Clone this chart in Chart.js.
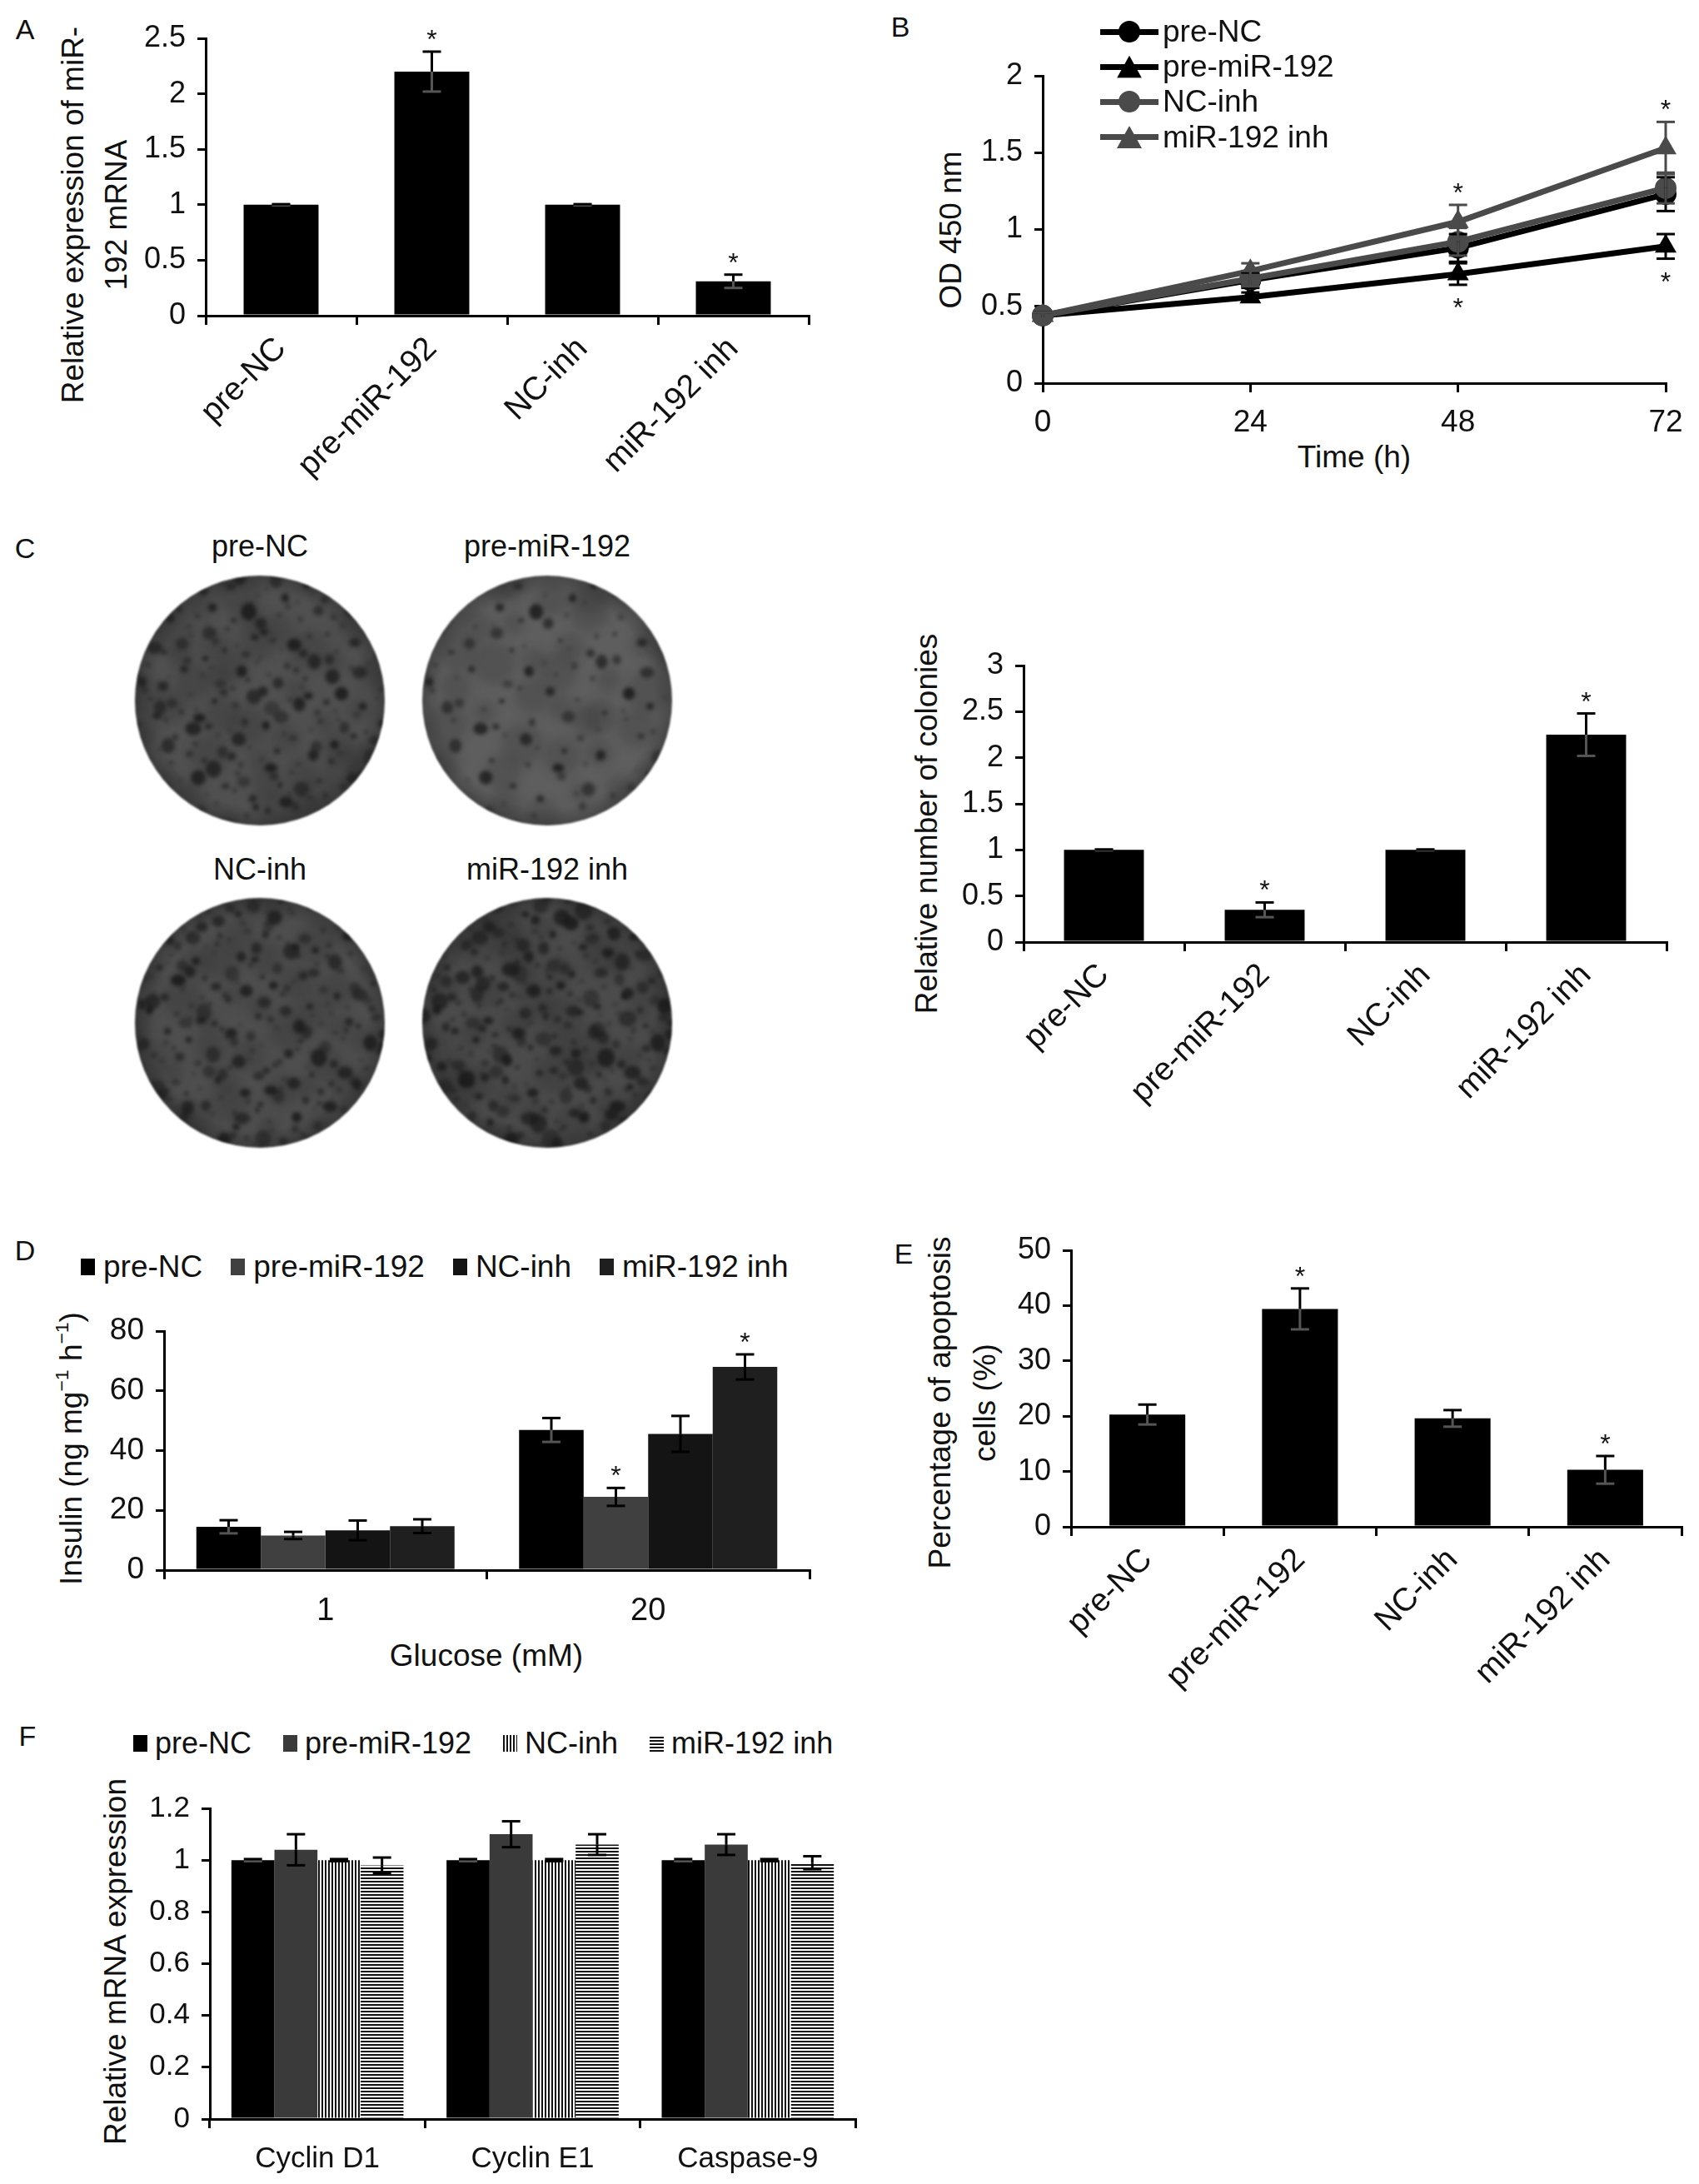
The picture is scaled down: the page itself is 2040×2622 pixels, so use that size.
<!DOCTYPE html>
<html>
<head>
<meta charset="utf-8">
<script src="https://cdn.jsdelivr.net/npm/chart.js@4.4.1/dist/chart.umd.min.js"></script>
<style>
html, body { margin: 0; padding: 0; background: #fff; }
body { width: 2040px; height: 2622px; position: relative; overflow: hidden;
       font-family: 'Liberation Sans', Arial, Helvetica, sans-serif; color: #111; }
canvas { position: absolute; }
.t { position: absolute; transform: translate(-50%, -50%); white-space: nowrap;
     font-size: 37px; line-height: 1.15; text-align: center; }
.r { transform: translate(-50%, -50%) rotate(-90deg); }
.letter { font-size: 34px; }
sup { font-size: 0.62em; line-height: 0; vertical-align: 0.7em; }
.legRow { position: absolute; display: flex; align-items: center; white-space: nowrap; }
.legRow .item { display: flex; align-items: center; }
.legRow .sq { width: 17px; height: 20px; }
.lgB { position: absolute; left: 1321px; height: 42px; display: flex; align-items: center; font-size: 37px; }
.lgB .ln { position: relative; width: 70px; height: 7px; margin-right: 5px; }
.lgB .mk { position: absolute; left: 50%; top: 50%; width: 26px; height: 26px;
           transform: translate(-50%, -50%); border-radius: 50%; }
.lgB .tri { border-radius: 0; width: 30px; height: 27px; clip-path: polygon(50% 0, 100% 100%, 0 100%); }
</style>
</head>
<body>

<div class="t letter" style="left:30px;top:36px">A</div>
<div class="t letter" style="left:1081px;top:33px">B</div>
<div class="t letter" style="left:30px;top:659px">C</div>
<div class="t letter" style="left:30px;top:1502px">D</div>
<div class="t letter" style="left:1085px;top:1506px">E</div>
<div class="t letter" style="left:33px;top:2085px">F</div>

<div class="t r" style="left:114px;top:258px;line-height:52px">Relative expression of miR-<br>192 mRNA</div>
<div class="t r" style="left:1142px;top:276px">OD 450 nm</div>
<div class="t" style="left:1626px;top:549px">Time (h)</div>
<div class="t r" style="left:1113px;top:989px">Relative number of colonies</div>
<div class="t r" style="left:86px;top:1739px">Insulin (ng mg<sup>−1</sup> h<sup>−1</sup>)</div>
<div class="t" style="left:584px;top:1988px">Glucose (mM)</div>
<div class="t r" style="left:1156px;top:1684px;line-height:54px">Percentage of apoptosis<br>cells (%)</div>
<div class="t r" style="left:139px;top:2355px">Relative mRNA expression</div>

<script>
Chart.defaults.font.family = "'Liberation Sans', Arial, Helvetica, sans-serif";
Chart.defaults.color = '#111';
Chart.defaults.animation = false;

const groups = ['pre-NC', 'pre-miR-192', 'NC-inh', 'miR-192 inh'];

// A - miR-192 expression
const exprTicks = [0, 0.5, 1, 1.5, 2, 2.5];
const exprMean = [1.0, 2.2, 1.0, 0.31];
const exprErr = [0.005, 0.18, 0.005, 0.06];
const exprStar = [0, 1, 0, 1];

// B - proliferation (OD 450)
const hours = [0, 24, 48, 72];
const odTicks = [0, 0.5, 1, 1.5, 2];
const odPreNC = [0.44, 0.67, 0.88, 1.23];
const odPreMiR = [0.44, 0.56, 0.71, 0.89];
const odNCinh = [0.44, 0.68, 0.92, 1.27];
const odMiRinh = [0.44, 0.73, 1.05, 1.53];
const odErrPreNC = [0.02, 0.05, 0.09, 0.11];
const odErrPreMiR = [0.02, 0.03, 0.07, 0.08];
const odErrNCinh = [0.02, 0.05, 0.09, 0.10];
const odErrMiRinh = [0.02, 0.05, 0.11, 0.17];
const odStarPreMiR = [0, 0, -1, -1];
const odStarMiRinh = [0, 0, 1, 1];

// C - colonies
const colonyTicks = [0, 0.5, 1, 1.5, 2, 2.5, 3];
const colonyMean = [1.0, 0.35, 1.0, 2.25];
const colonyErr = [0.005, 0.08, 0.005, 0.23];
const colonyStar = [0, 1, 0, 1];

// D - insulin secretion
const glucose = ['1', '20'];
const insulinTicks = [0, 20, 40, 60, 80];
const insPreNC = [14.5, 46.9];
const insPreMiR = [11.6, 24.5];
const insNCinh = [13.3, 45.6];
const insMiRinh = [14.7, 68.0];
const insErrPreNC = [2.2, 4.0];
const insErrPreMiR = [1.2, 3.0];
const insErrNCinh = [3.3, 6.0];
const insErrMiRinh = [2.3, 4.2];
const insStarPreMiR = [0, 1];
const insStarMiRinh = [0, 1];

// E - apoptosis
const apoTicks = [0, 10, 20, 30, 40, 50];
const apoMean = [20.3, 39.4, 19.6, 10.3];
const apoErr = [1.8, 3.7, 1.5, 2.5];
const apoStar = [0, 1, 0, 1];

// F - mRNA expression
const genes = ['Cyclin D1', 'Cyclin E1', 'Caspase-9'];
const mrnaTicks = [0, 0.2, 0.4, 0.6, 0.8, 1, 1.2];
const mrnaPreNC = [1.0, 1.0, 1.0];
const mrnaPreMiR = [1.04, 1.10, 1.06];
const mrnaNCinh = [1.0, 1.0, 1.0];
const mrnaMiRinh = [0.98, 1.06, 0.99];
const mrnaErrPreNC = [0.004, 0.004, 0.004];
const mrnaErrPreMiR = [0.06, 0.05, 0.04];
const mrnaErrNCinh = [0.004, 0.004, 0.004];
const mrnaErrMiRinh = [0.03, 0.04, 0.025];

// ---------- helpers ----------
function makeCanvas(box) {
    const cv = document.createElement('canvas');
    cv.width = box.w; cv.height = box.h;
    cv.style.left = box.x + 'px';
    cv.style.top = box.y + 'px';
    document.body.appendChild(cv);
    return cv;
}

function yAxis(ticks, width, size) {
    return {
        min: ticks[0], max: ticks[ticks.length - 1],
        afterBuildTicks: s => { s.ticks = ticks.map(v => ({ value: v })); },
        afterFit: s => { s.width = width; },
        border: { display: true, color: '#000', width: 3 },
        grid: { drawOnChartArea: false, drawTicks: true, tickLength: 10, color: '#000', lineWidth: 3 },
        ticks: { color: '#111', font: { size: size }, padding: 14, callback: v => String(v) }
    };
}

function xAxis(height, font, rot, pad) {
    return {
        offset: true,
        afterFit: s => { s.height = height; },
        border: { display: true, color: '#000', width: 3 },
        grid: { offset: true, drawOnChartArea: false, drawTicks: true, tickLength: 11, color: '#000', lineWidth: 3 },
        ticks: { color: '#111', font: font, padding: pad, minRotation: rot, maxRotation: rot, autoSkip: false }
    };
}

function layoutFor(box, area) {
    return { padding: { left: 0, bottom: 0, top: area.T - box.y, right: box.x + box.w - area.R } };
}

function seg(ctx, x1, y1, x2, y2, c) {
    ctx.strokeStyle = c;
    ctx.beginPath(); ctx.moveTo(x1, y1); ctx.lineTo(x2, y2); ctx.stroke();
}

// error bars + significance stars, drawn through the y scale
function errorBars(errs, stars, isLine) {
    return {
        id: 'errorBars',
        afterDatasetsDraw(chart) {
            const ctx = chart.ctx, y = chart.scales.y;
            ctx.save();
            ctx.lineWidth = 3;
            chart.data.datasets.forEach((ds, di) => {
                chart.getDatasetMeta(di).data.forEach((el, i) => {
                    const raw = ds.data[i];
                    const v = typeof raw === 'object' ? raw.y : raw;
                    const e = errs[di][i];
                    const top = y.getPixelForValue(v + e);
                    const mid = y.getPixelForValue(v);
                    const bot = y.getPixelForValue(v - e);
                    const x = el.x, cap = 11;
                    const up = isLine ? ds.borderColor : '#000';
                    const lo = isLine ? ds.borderColor : (ds.backgroundColor === '#000' ? '#555' : '#000');
                    seg(ctx, x, mid, x, bot, lo);
                    seg(ctx, x - cap, bot, x + cap, bot, lo);
                    seg(ctx, x, mid, x, top, up);
                    seg(ctx, x - cap, top, x + cap, top, up);
                    const s = stars[di] ? stars[di][i] : 0;
                    if (s) {
                        ctx.font = "32px 'Liberation Sans', Arial, sans-serif";
                        ctx.fillStyle = '#111';
                        ctx.textAlign = 'center';
                        ctx.textBaseline = 'alphabetic';
                        const yc = s > 0 ? top - 22 : bot + 20;
                        ctx.fillText('*', x, yc + 18);
                    }
                });
            });
            ctx.restore();
        }
    };
}

const baseOpts = {
    responsive: false,
    devicePixelRatio: 1,
    animation: false,
    plugins: { legend: { display: false }, tooltip: { enabled: false } }
};

function singleBar(box, area, values, errs, stars, ticks) {
    const cv = makeCanvas(box);
    return new Chart(cv, {
        type: 'bar',
        data: { labels: groups, datasets: [{ data: values, backgroundColor: '#000', borderWidth: 0,
                barPercentage: 0.497, categoryPercentage: 1.0 }] },
        options: Object.assign({}, baseOpts, {
            layout: layoutFor(box, area),
            scales: {
                x: xAxis(box.y + box.h - area.B, { size: 39 }, 45, 6),
                y: yAxis(ticks, area.L - box.x, 36)
            }
        }),
        plugins: [errorBars([errs], [stars], false)]
    });
}

// ---------- A ----------
singleBar({ x: 110, y: 0, w: 890, h: 590 }, { L: 247, T: 46, R: 971, B: 379 },
    exprMean, exprErr, exprStar, exprTicks);

// ---------- B ----------
(function () {
    const box = { x: 1130, y: 30, w: 910, h: 520 }, area = { L: 1252, T: 91, R: 2000, B: 460 };
    const series = [odPreNC, odPreMiR, odNCinh, odMiRinh];
    const errs = [odErrPreNC, odErrPreMiR, odErrNCinh, odErrMiRinh];
    const stars = [null, odStarPreMiR, null, odStarMiRinh];
    const colors = ['#000', '#000', '#4a4a4a', '#4a4a4a'];
    const shapes = ['circle', 'triangle', 'circle', 'triangle'];
    const cv = makeCanvas(box);
    new Chart(cv, {
        type: 'line',
        data: {
            datasets: series.map((s, i) => ({
                label: groups[i],
                data: hours.map((h, j) => ({ x: h, y: s[j] })),
                borderColor: colors[i], backgroundColor: colors[i], borderWidth: 7,
                pointStyle: shapes[i], pointRadius: shapes[i] === 'circle' ? 13 : 15,
                pointBorderWidth: 0, tension: 0, clip: false, order: 4 - i
            }))
        },
        options: Object.assign({}, baseOpts, {
            layout: layoutFor(box, area),
            scales: {
                x: {
                    type: 'linear', min: hours[0], max: hours[hours.length - 1],
                    afterBuildTicks: s => { s.ticks = hours.map(v => ({ value: v })); },
                    afterFit: s => { s.height = box.y + box.h - area.B; },
                    border: { display: true, color: '#000', width: 3 },
                    grid: { drawOnChartArea: false, drawTicks: true, tickLength: 11, color: '#000', lineWidth: 3 },
                    ticks: { color: '#111', font: { size: 37 }, padding: 15 }
                },
                y: yAxis(odTicks, area.L - box.x, 36)
            }
        }),
        plugins: [errorBars(errs, stars, true)]
    });

    // legend (line + marker)
    groups.forEach((g, i) => {
        const row = document.createElement('div');
        row.className = 'lgB';
        row.style.top = (17 + i * 42.2) + 'px';
        const ln = document.createElement('div');
        ln.className = 'ln';
        ln.style.background = colors[i];
        const mk = document.createElement('div');
        mk.className = 'mk' + (shapes[i] === 'triangle' ? ' tri' : '');
        mk.style.background = colors[i];
        ln.appendChild(mk);
        row.appendChild(ln);
        row.appendChild(document.createTextNode(g));
        document.body.appendChild(row);
    });
})();

// ---------- C plates (photo stand-ins) ----------
(function () {
    function halton(i, b) {
        let f = 1, r = 0;
        while (i > 0) { f /= b; r += f * (i % b); i = Math.floor(i / b); }
        return r;
    }
    const centers = [[312, 841], [657, 841], [312, 1228], [657, 1228]];
    const labelY = [656, 656, 1044, 1044];
    const tones = [['#505050', '#3e3e3e'], ['#5e5e5e', '#484848'], ['#4e4e4e', '#3c3c3c'], ['#4b4b4b', '#393939']];
    const spots = [230, 120, 270, 320];
    const spotSize = [8, 7, 8, 9];
    groups.forEach((g, n) => {
        const lbl = document.createElement('div');
        lbl.className = 't';
        lbl.style.cssText = `left:${centers[n][0]}px;top:${labelY[n]}px;font-size:36px`;
        lbl.textContent = g;
        document.body.appendChild(lbl);

        const rad = 150, s = 310, c = s / 2;
        const cv = makeCanvas({ x: centers[n][0] - c, y: centers[n][1] - c, w: s, h: s });
        const ctx = cv.getContext('2d');
        ctx.save();
        ctx.beginPath(); ctx.arc(c, c, rad, 0, Math.PI * 2); ctx.clip();
        const grad = ctx.createRadialGradient(c, c, 0, c, c, rad);
        grad.addColorStop(0, tones[n][0]);
        grad.addColorStop(0.86, tones[n][0]);
        grad.addColorStop(1, tones[n][1]);
        ctx.fillStyle = grad;
        ctx.fillRect(0, 0, s, s);
        // faint mottling
        ctx.filter = 'blur(6px)';
        for (let k = 1; k <= 45; k++) {
            const i = k + n * 53 + 400;
            ctx.fillStyle = 'rgba(30,30,30,0.18)';
            ctx.beginPath();
            ctx.arc(halton(i, 3) * s, halton(i, 2) * s, 12 + 14 * halton(i, 5), 0, Math.PI * 2);
            ctx.fill();
        }
        // colonies
        ctx.filter = 'blur(2.2px)';
        for (let k = 1; k <= spots[n]; k++) {
            const i = k + n * 97;
            const px = halton(i, 2) * s, py = halton(i, 3) * s;
            const q = halton(i, 5);
            const r = 1.8 + q * q * spotSize[n];
            ctx.fillStyle = `rgba(24,24,24,${0.4 + 0.45 * halton(i, 7)})`;
            ctx.beginPath();
            ctx.ellipse(px, py, r, r * (0.7 + 0.5 * halton(i, 11)), 0, 0, Math.PI * 2);
            ctx.fill();
        }
        ctx.restore();
        cv.style.filter = 'blur(0.8px)';
    });
})();

// ---------- C colonies ----------
singleBar({ x: 1110, y: 760, w: 930, h: 600 }, { L: 1229, T: 799, R: 2001, B: 1131 },
    colonyMean, colonyErr, colonyStar, colonyTicks);

// ---------- E ----------
singleBar({ x: 1170, y: 1460, w: 870, h: 600 }, { L: 1286, T: 1501, R: 2019, B: 1833 },
    apoMean, apoErr, apoStar, apoTicks);

// ---------- grouped legends ----------
function groupLegend(left, cy, size, fills, sqGap, itemGap) {
    const row = document.createElement('div');
    row.className = 'legRow';
    row.style.left = left + 'px';
    row.style.top = (cy - 25) + 'px';
    row.style.height = '50px';
    row.style.fontSize = size + 'px';
    groups.forEach((g, i) => {
        const it = document.createElement('div');
        it.className = 'item';
        it.style.marginRight = itemGap + 'px';
        const sq = document.createElement('div');
        sq.className = 'sq';
        sq.style.background = fills[i];
        sq.style.marginRight = sqGap + 'px';
        it.appendChild(sq);
        it.appendChild(document.createTextNode(g));
        row.appendChild(it);
    });
    document.body.appendChild(row);
}

// ---------- D ----------
(function () {
    const box = { x: 90, y: 1560, w: 920, h: 420 }, area = { L: 197, T: 1598, R: 972, B: 1885 };
    const series = [insPreNC, insPreMiR, insNCinh, insMiRinh];
    const errs = [insErrPreNC, insErrPreMiR, insErrNCinh, insErrMiRinh];
    const stars = [null, insStarPreMiR, null, insStarMiRinh];
    const fills = ['#000', '#404040', '#141414', '#1f1f1f'];
    const cv = makeCanvas(box);
    new Chart(cv, {
        type: 'bar',
        data: {
            labels: glucose,
            datasets: series.map((s, i) => ({ label: groups[i], data: s, backgroundColor: fills[i],
                borderWidth: 0, barPercentage: 1.0, categoryPercentage: 0.8 }))
        },
        options: Object.assign({}, baseOpts, {
            layout: layoutFor(box, area),
            scales: {
                x: xAxis(box.y + box.h - area.B, { size: 38 }, 0, 16),
                y: yAxis(insulinTicks, area.L - box.x, 37)
            }
        }),
        plugins: [errorBars(errs, stars, false)]
    });
    groupLegend(97, 1521, 37, fills, 10, 34);
})();

// ---------- F ----------
(function () {
    function stripes(vertical) {
        const c = document.createElement('canvas');
        c.width = 4; c.height = 4;
        const g = c.getContext('2d');
        g.fillStyle = '#fff'; g.fillRect(0, 0, 4, 4);
        g.fillStyle = '#111';
        if (vertical) g.fillRect(0, 0, 2, 4); else g.fillRect(0, 0, 4, 2);
        return g.createPattern(c, 'repeat');
    }
    const box = { x: 130, y: 2130, w: 930, h: 492 }, area = { L: 252, T: 2171, R: 1027, B: 2544 };
    const series = [mrnaPreNC, mrnaPreMiR, mrnaNCinh, mrnaMiRinh];
    const errs = [mrnaErrPreNC, mrnaErrPreMiR, mrnaErrNCinh, mrnaErrMiRinh];
    const fills = ['#000', '#3a3a3a', stripes(true), stripes(false)];
    const cv = makeCanvas(box);
    new Chart(cv, {
        type: 'bar',
        data: {
            labels: genes,
            datasets: series.map((s, i) => ({ label: groups[i], data: s, backgroundColor: fills[i],
                borderWidth: 0, barPercentage: 1.0, categoryPercentage: 0.8 }))
        },
        options: Object.assign({}, baseOpts, {
            layout: layoutFor(box, area),
            scales: {
                x: xAxis(box.y + box.h - area.B, { size: 35 }, 0, 16),
                y: yAxis(mrnaTicks, area.L - box.x, 35)
            }
        }),
        plugins: [errorBars(errs, [], false)]
    });
    groupLegend(160, 2093, 36, ['#000', '#3a3a3a',
        'repeating-linear-gradient(90deg, #111 0 2px, #fff 2px 4px)',
        'repeating-linear-gradient(0deg, #111 0 2px, #fff 2px 4px)'], 9, 38);
})();
</script>
</body>
</html>
